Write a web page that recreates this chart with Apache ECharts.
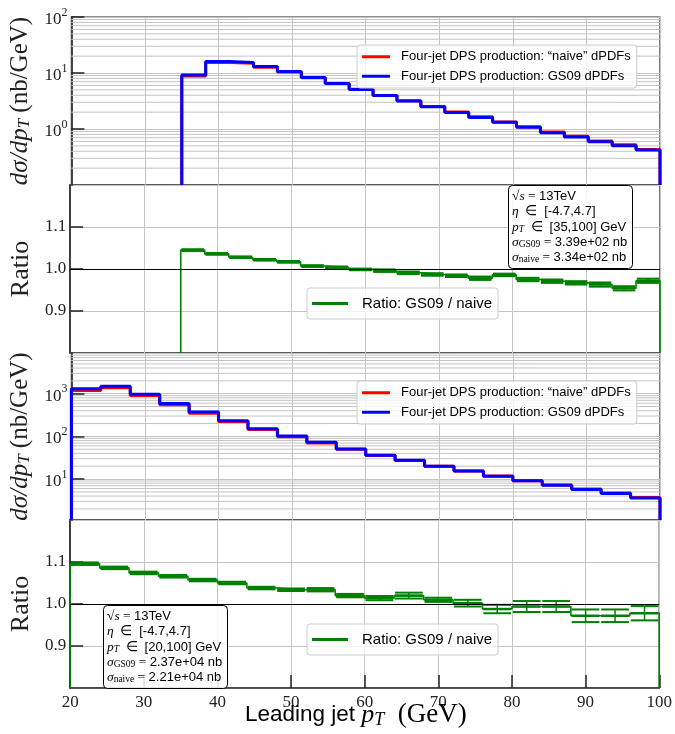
<!DOCTYPE html>
<html><head><meta charset="utf-8">
<script src="https://cdn.jsdelivr.net/npm/echarts@6/dist/echarts.min.js"></script>
<style>html,body{margin:0;padding:0;background:#fff}#c{width:675px;height:734px}</style>
</head><body><div id="c"></div>
<script>
// ---------- data ----------
const edgesTop = [35, 38.25, 41.5, 44.75, 48, 51.25, 54.5, 57.75, 61, 64.25, 67.5, 70.75, 74, 77.25, 80.5, 83.75, 87, 90.25, 93.5, 96.75, 100];
const topGS09  = [9.2, 16.0, 15.4, 13.0, 10.6, 8.3, 6.5, 5.1, 3.95, 3.15, 2.49, 1.98, 1.61, 1.32, 1.07, 0.86, 0.72, 0.59, 0.50, 0.42];
const topNaive = [8.80, 15.44, 14.98, 12.72, 10.42, 8.24, 6.47, 5.11, 3.97, 3.18, 2.52, 2.01, 1.65, 1.34, 1.10, 0.886, 0.745, 0.613, 0.524, 0.432];
const topRatio = [1.045, 1.036, 1.028, 1.022, 1.017, 1.007, 1.004, 0.999, 0.996, 0.991, 0.987, 0.984, 0.978, 0.986, 0.975, 0.971, 0.967, 0.963, 0.954, 0.972];
const topRatioErr = [0.002, 0.002, 0.002, 0.002, 0.002, 0.002, 0.002, 0.002, 0.003, 0.003, 0.003, 0.003, 0.004, 0.003, 0.004, 0.004, 0.004, 0.005, 0.005, 0.005];

const edgesBot = [20, 24, 28, 32, 36, 40, 44, 48, 52, 56, 60, 64, 68, 72, 76, 80, 84, 88, 92, 96, 100];
const botGS09  = [1300, 1500, 973, 591, 371, 233, 152, 102, 72.8, 50.9, 36.3, 27.7, 20.1, 15.4, 11.7, 9.1, 7.2, 5.7, 4.6, 3.6];
const botNaive = [1186, 1381, 906, 554, 351, 222, 146, 98.6, 70.4, 49.9, 35.8, 27.2, 19.9, 15.4, 11.8, 9.15, 7.24, 5.86, 4.73, 3.68];
const botRatio = [1.096, 1.086, 1.074, 1.066, 1.057, 1.050, 1.038, 1.034, 1.034, 1.020, 1.014, 1.020, 1.010, 1.002, 0.988, 0.994, 0.994, 0.972, 0.972, 0.978];
const botRatioErr = [0.003, 0.003, 0.003, 0.003, 0.003, 0.003, 0.003, 0.003, 0.004, 0.004, 0.005, 0.007, 0.005, 0.008, 0.010, 0.013, 0.013, 0.015, 0.015, 0.017];

const xTicks = [20, 30, 40, 50, 60, 70, 80, 90, 100];
const nameNaive = 'Four-jet DPS production: \u201cnaive\u201d dPDFs';
const nameGS09 = 'Four-jet DPS production: GS09 dPDFs';
const nameRatio = 'Ratio: GS09 / naive';

// ---------- helpers ----------
const SERIF = 'Liberation Serif', SANS = 'Liberation Sans';
const RED = '#ff0000', BLUE = '#0000ff', GREEN = '#008000', GRIDC = '#c4c4c4';
const LIM = { top: [0.1, 100], bot: [1.1, 9000], ratio: [0.8, 1.2] };

function stepPts(edges, vals, base) {
  const p = [[edges[0], base]];
  vals.forEach((v, i) => { p.push([edges[i], v]); p.push([edges[i + 1], v]); });
  p.push([edges[edges.length - 1], base]);
  return p;
}
function errData(edges, vals, errs) {
  return vals.map((v, i) => [(edges[i] + edges[i + 1]) / 2, v, errs[i], (edges[i + 1] - edges[i]) / 2]);
}
function minorVals(lo, hi) {
  const out = [];
  for (let d = Math.floor(Math.log10(lo)); d <= Math.ceil(Math.log10(hi)); d++) {
    for (let k = 2; k <= 9; k++) { const v = k * Math.pow(10, d); if (v > lo && v < hi) out.push([20, v]); }
  }
  return out;
}
function gridItem(params, api) {
  const p = api.coord([20, api.value(1)]);
  const cs = params.coordSys;
  return { type: 'line', silent: true, shape: { x1: cs.x, y1: p[1], x2: cs.x + cs.width, y2: p[1] }, style: { stroke: GRIDC, lineWidth: 1 } };
}
function errItem(params, api) {
  const xc = api.value(0), v = api.value(1), e = api.value(2), hw = api.value(3) * 0.94;
  const a = api.coord([xc - hw, v + e]), b = api.coord([xc + hw, v + e]);
  const c = api.coord([xc - hw, v - e]), d = api.coord([xc + hw, v - e]);
  const m1 = api.coord([xc - hw, v]), m2 = api.coord([xc + hw, v]);
  const cx = (a[0] + b[0]) / 2;
  const st = { stroke: GREEN, lineWidth: 2 };
  return { type: 'group', children: [
    { type: 'line', shape: { x1: a[0], y1: a[1], x2: b[0], y2: b[1] }, style: st },
    { type: 'line', shape: { x1: c[0], y1: c[1], x2: d[0], y2: d[1] }, style: st },
    { type: 'line', shape: { x1: m1[0], y1: m1[1], x2: m2[0], y2: m2[1] }, style: { stroke: GREEN, lineWidth: 2.5 } },
    { type: 'line', shape: { x1: cx, y1: a[1], x2: cx, y2: c[1] }, style: { stroke: GREEN, lineWidth: 1.5 } }
  ] };
}

const N = 'normal';
const yNameRich = {
  i: { fontFamily: SERIF, fontStyle: 'italic', fontWeight: N, fontSize: 25, color: '#222' },
  sub: { fontFamily: SERIF, fontStyle: 'italic', fontWeight: N, fontSize: 17, color: '#222', padding: [9, 0, 0, 0] },
  r: { fontFamily: SERIF, fontWeight: N, fontSize: 25, color: '#222' }
};
const supRich = {
  b: { fontFamily: SERIF, fontWeight: N, fontSize: 17, color: '#222', padding: [5, 0, 0, 0] },
  s: { fontFamily: SERIF, fontWeight: N, fontSize: 12, color: '#222', padding: [0, 0, 9, 0] }
};
function logAxis(gi, lim, showMax) {
  return {
    type: 'log', logBase: 10, gridIndex: gi, min: lim[0], max: lim[1],
    axisLine: { show: true, lineStyle: { color: '#333', width: 1.8 } },
    axisTick: { show: true, inside: true, length: 13, lineStyle: { color: '#222', width: 1.5 } },
    axisLabel: {
      margin: 4, showMinLabel: false, showMaxLabel: showMax,
      formatter: v => { const e = Math.log10(v), r = Math.round(e); return Math.abs(e - r) > 1e-6 ? '' : '{b|10}{s|' + r + '}'; },
      rich: supRich
    },
    splitLine: { show: true, lineStyle: { color: GRIDC, width: 1 } },
    name: '{i|d\u03c3/dp}{sub|T}{r| (nb/GeV)}', nameLocation: 'middle', nameGap: 31, nameRotate: 90,
    nameTextStyle: { fontWeight: N, rich: yNameRich }
  };
}
function ratioAxis(gi) {
  return {
    type: 'value', gridIndex: gi, min: LIM.ratio[0], max: LIM.ratio[1], interval: 0.1,
    axisLine: { show: true, lineStyle: { color: '#333', width: 1.8 } },
    axisTick: { show: true, inside: true, length: 13, lineStyle: { color: '#222', width: 1.5 } },
    axisLabel: { margin: 4, showMinLabel: false, showMaxLabel: false, fontFamily: SERIF, fontSize: 17, color: '#222', formatter: v => v.toFixed(1) },
    splitLine: { show: true, lineStyle: { color: GRIDC, width: 1 } },
    name: 'Ratio', nameLocation: 'middle', nameGap: 31, nameRotate: 90,
    nameTextStyle: { fontFamily: SERIF, fontWeight: N, fontSize: 26, color: '#222' }
  };
}
function xAxis(gi, showLabels) {
  return {
    type: 'value', gridIndex: gi, min: xTicks[0], max: xTicks[xTicks.length - 1], interval: 10,
    axisLine: { show: showLabels, lineStyle: { color: '#333', width: 1.5 } },
    axisTick: { show: showLabels, inside: true, length: 13, lineStyle: { color: '#222', width: 1.5 } },
    axisLabel: { show: showLabels, margin: 6, fontFamily: SERIF, fontSize: 17, color: '#222' },
    splitLine: { show: true, lineStyle: { color: GRIDC, width: 1 } }
  };
}
const gridBase = { left: 70, width: 590, show: true, borderColor: '#222', borderWidth: 1.2, backgroundColor: 'transparent' };

function stepSeries(name, gi, edges, vals, base, color, z) {
  return { name, type: 'line', xAxisIndex: gi, yAxisIndex: gi, data: stepPts(edges, vals, base), symbol: 'none', showSymbol: false,
    lineStyle: { color, width: 3 }, itemStyle: { color }, clip: true, z, animation: false };
}
function ratioSeries(gi, edges, vals, errs) {
  return [
    { name: nameRatio, type: 'line', xAxisIndex: gi, yAxisIndex: gi, data: stepPts(edges, vals, LIM.ratio[0]), symbol: 'none', showSymbol: false,
      lineStyle: { color: GREEN, width: 1.6 }, itemStyle: { color: GREEN }, clip: true, z: 3, animation: false,
      markLine: { silent: true, symbol: ['none', 'none'], label: { show: false }, animation: false,
        lineStyle: { color: '#000', width: 1.2, type: 'solid' }, data: [{ yAxis: 1 }] } },
    { type: 'custom', xAxisIndex: gi, yAxisIndex: gi, data: errData(edges, vals, errs), renderItem: errItem, clip: true, z: 4, silent: true, animation: false }
  ];
}
function minorSeries(gi, lim) {
  return { type: 'custom', xAxisIndex: gi, yAxisIndex: gi, data: minorVals(lim[0], lim[1]), renderItem: gridItem, z: 1, silent: true, animation: false };
}

const legendBase = { orient: 'vertical', selectedMode: false, icon: 'rect', itemGap: 0,
  backgroundColor: 'rgba(255,255,255,0.8)', borderColor: '#cccccc', borderWidth: 1, borderRadius: 3 };
const mainLegendText = { fontFamily: SANS, fontSize: 13, color: '#000', lineHeight: 19.5, padding: [0, 0, 0, 6] };
const ratioLegendText = { fontFamily: SANS, fontSize: 15, color: '#000', lineHeight: 25, padding: [0, 0, 0, 9] };

const infoRich = {
  i: { fontFamily: SERIF, fontStyle: 'italic', fontWeight: N, fontSize: 13.5, color: '#000' },
  m: { fontFamily: SERIF, fontWeight: N, fontSize: 13.5, color: '#000' },
  sub: { fontFamily: SERIF, fontWeight: N, fontSize: 9.5, color: '#000', padding: [5, 0, 0, 0] },
  isub: { fontFamily: SERIF, fontStyle: 'italic', fontWeight: N, fontSize: 9.5, color: '#000', padding: [5, 0, 0, 0] },
  t: { fontFamily: SANS, fontWeight: N, fontSize: 13, color: '#000' }
};
function infoText(ptRange, sGS, sNaive) {
  return '{m|\u221a}{i|s}{m| = }{t|13TeV}\n' +
    '{i|\u03b7}{m|  \u2208  }{t|[-4.7,4.7]}\n' +
    '{i|p}{isub|T}{m|  \u2208  }{t|' + ptRange + ' GeV}\n' +
    '{i|\u03c3}{sub|GS09}{m| = }{t|' + sGS + ' nb}\n' +
    '{i|\u03c3}{sub|naive}{m| = }{t|' + sNaive + ' nb}';
}
const infoBase = { backgroundColor: 'rgba(255,255,255,0.85)', borderColor: '#000', borderWidth: 1, borderRadius: 4, padding: [4, 5, 4, 4] };

const option = {
  animation: false,
  backgroundColor: '#fff',
  grid: [
    Object.assign({ top: 17, height: 168 }, gridBase),
    Object.assign({ top: 185, height: 168 }, gridBase),
    Object.assign({ top: 353, height: 167 }, gridBase),
    Object.assign({ top: 520, height: 168 }, gridBase)
  ],
  xAxis: [xAxis(0, false), xAxis(1, false), xAxis(2, false), xAxis(3, true)],
  yAxis: [logAxis(0, LIM.top, true), ratioAxis(1), logAxis(2, LIM.bot, false), ratioAxis(3)],
  legend: [
    Object.assign({ left: 357, top: 45, padding: [2, 6, 2, 5], itemWidth: 28, itemHeight: 3, textStyle: mainLegendText, data: [nameNaive, nameGS09] }, legendBase),
    Object.assign({ left: 307, top: 288, padding: [3, 6, 3, 5], itemWidth: 36, itemHeight: 3, textStyle: ratioLegendText, data: [nameRatio] }, legendBase),
    Object.assign({ left: 357, top: 381, padding: [2, 6, 2, 5], itemWidth: 28, itemHeight: 3, textStyle: mainLegendText, data: [nameNaive, nameGS09] }, legendBase),
    Object.assign({ left: 307, top: 624, padding: [3, 6, 3, 5], itemWidth: 36, itemHeight: 3, textStyle: ratioLegendText, data: [nameRatio] }, legendBase)
  ],
  title: [
    Object.assign({ left: 508, top: 185, text: infoText('[35,100]', '3.39e+02', '3.34e+02'), textStyle: { fontWeight: N, lineHeight: 15.2, rich: infoRich } }, infoBase),
    Object.assign({ left: 103, top: 605, text: infoText('[20,100]', '2.37e+04', '2.21e+04'), textStyle: { fontWeight: N, lineHeight: 15.2, rich: infoRich } }, infoBase),
    { left: 245, top: 701, padding: 0, text: '{s|Leading jet }{i|p}{sub|T}{r|  (GeV)}',
      textStyle: { fontWeight: N, rich: {
        s: { fontFamily: SANS, fontWeight: N, fontSize: 22.5, color: '#000', lineHeight: 28 },
        i: { fontFamily: SERIF, fontStyle: 'italic', fontWeight: N, fontSize: 26, color: '#000', lineHeight: 28 },
        sub: { fontFamily: SERIF, fontStyle: 'italic', fontWeight: N, fontSize: 18, color: '#000', padding: [10, 0, 0, 0] },
        r: { fontFamily: SERIF, fontWeight: N, fontSize: 27, color: '#000', lineHeight: 28 } } } }
  ],
  series: [
    minorSeries(0, LIM.top),
    minorSeries(2, LIM.bot),
    stepSeries(nameNaive, 0, edgesTop, topNaive, LIM.top[0], RED, 2),
    stepSeries(nameGS09, 0, edgesTop, topGS09, LIM.top[0], BLUE, 3),
    ...ratioSeries(1, edgesTop, topRatio, topRatioErr),
    stepSeries(nameNaive, 2, edgesBot, botNaive, LIM.bot[0], RED, 2),
    stepSeries(nameGS09, 2, edgesBot, botGS09, LIM.bot[0], BLUE, 3),
    ...ratioSeries(3, edgesBot, botRatio, botRatioErr)
  ]
};
const chart = echarts.init(document.getElementById('c'), null, { renderer: 'canvas' });
chart.setOption(option);
</script>
</body></html>
